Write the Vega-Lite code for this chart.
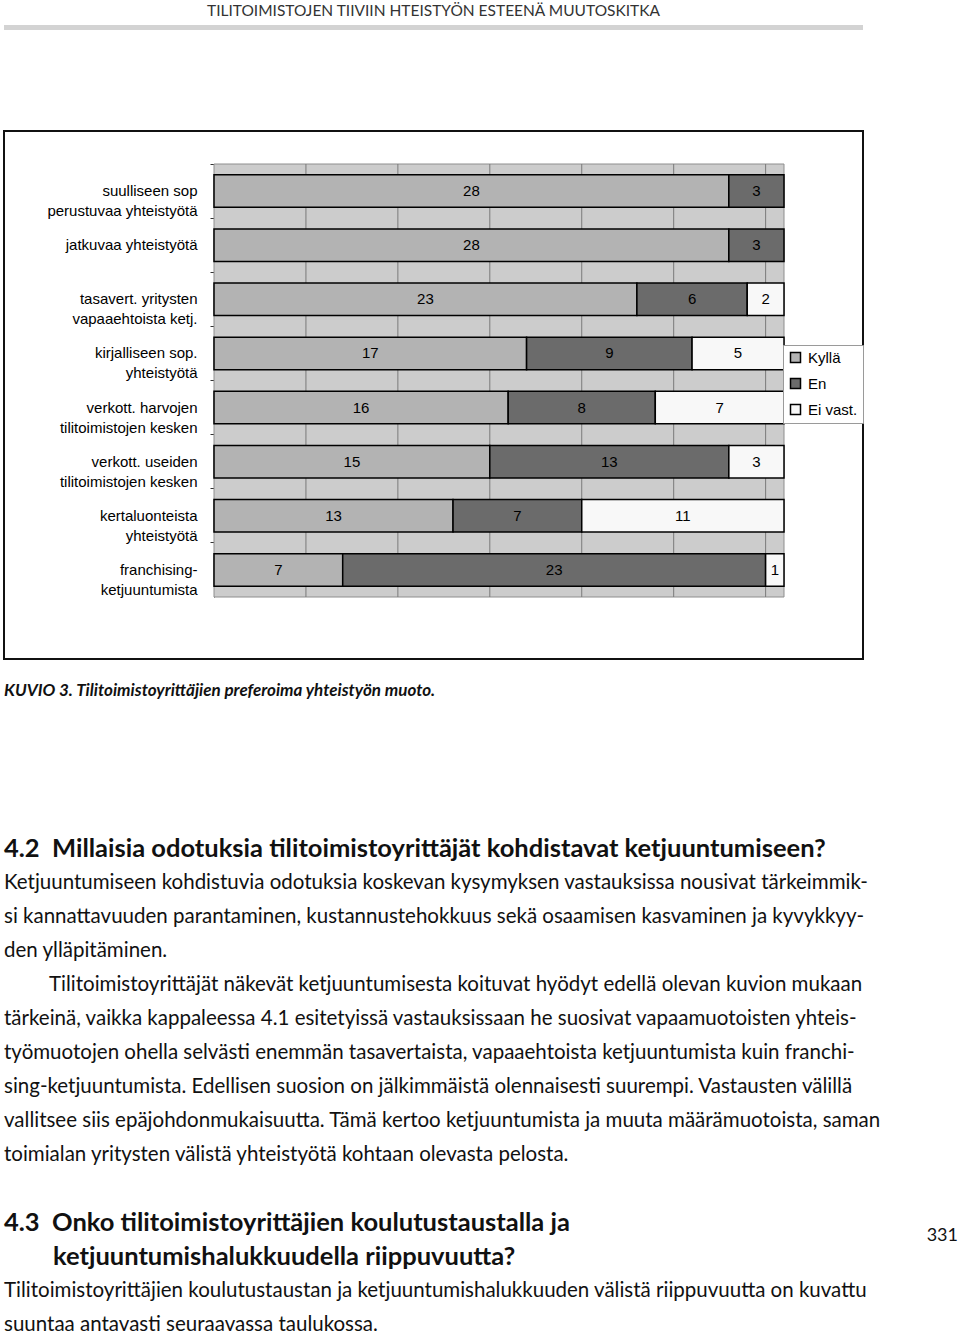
{
  "$schema": "https://vega.github.io/schema/vega-lite/v6.json",
  "background": "white",
  "padding": {"left": 3, "top": 3, "right": 0, "bottom": 0},
  "config": {"view": {"stroke": null}},
  "datasets": {
    "resp": [
      {"cat": "suulliseen sop\nperustuvaa yhteistyötä", "resp": "Kyllä", "k": 1, "n": 28},
      {"cat": "suulliseen sop\nperustuvaa yhteistyötä", "resp": "En", "k": 2, "n": 3},
      {"cat": "jatkuvaa yhteistyötä", "resp": "Kyllä", "k": 1, "n": 28},
      {"cat": "jatkuvaa yhteistyötä", "resp": "En", "k": 2, "n": 3},
      {"cat": "tasavert. yritysten\nvapaaehtoista ketj.", "resp": "Kyllä", "k": 1, "n": 23},
      {"cat": "tasavert. yritysten\nvapaaehtoista ketj.", "resp": "En", "k": 2, "n": 6},
      {"cat": "tasavert. yritysten\nvapaaehtoista ketj.", "resp": "Ei vast.", "k": 3, "n": 2},
      {"cat": "kirjalliseen sop.\nyhteistyötä", "resp": "Kyllä", "k": 1, "n": 17},
      {"cat": "kirjalliseen sop.\nyhteistyötä", "resp": "En", "k": 2, "n": 9},
      {"cat": "kirjalliseen sop.\nyhteistyötä", "resp": "Ei vast.", "k": 3, "n": 5},
      {"cat": "verkott. harvojen\ntilitoimistojen kesken", "resp": "Kyllä", "k": 1, "n": 16},
      {"cat": "verkott. harvojen\ntilitoimistojen kesken", "resp": "En", "k": 2, "n": 8},
      {"cat": "verkott. harvojen\ntilitoimistojen kesken", "resp": "Ei vast.", "k": 3, "n": 7},
      {"cat": "verkott. useiden\ntilitoimistojen kesken", "resp": "Kyllä", "k": 1, "n": 15},
      {"cat": "verkott. useiden\ntilitoimistojen kesken", "resp": "En", "k": 2, "n": 13},
      {"cat": "verkott. useiden\ntilitoimistojen kesken", "resp": "Ei vast.", "k": 3, "n": 3},
      {"cat": "kertaluonteista\nyhteistyötä", "resp": "Kyllä", "k": 1, "n": 13},
      {"cat": "kertaluonteista\nyhteistyötä", "resp": "En", "k": 2, "n": 7},
      {"cat": "kertaluonteista\nyhteistyötä", "resp": "Ei vast.", "k": 3, "n": 11},
      {"cat": "franchising-\nketjuuntumista", "resp": "Kyllä", "k": 1, "n": 7},
      {"cat": "franchising-\nketjuuntumista", "resp": "En", "k": 2, "n": 23},
      {"cat": "franchising-\nketjuuntumista", "resp": "Ei vast.", "k": 3, "n": 1}
    ],
    "grid": [{"g": 5}, {"g": 10}, {"g": 15}, {"g": 20}, {"g": 25}, {"g": 30}],
    "page": [
      {"line": 0, "kind": "heading", "t": "4.2\u00a0 Millaisia odotuksia tilitoimistoyrittäjät kohdistavat ketjuuntumiseen?"},
      {"line": 1, "kind": "body", "t": "Ketjuuntumiseen kohdistuvia odotuksia koskevan kysymyksen vastauksissa nousivat tärkeimmik-"},
      {"line": 2, "kind": "body", "t": "si kannattavuuden parantaminen, kustannustehokkuus sekä osaamisen kasvaminen ja kyvykkyy-"},
      {"line": 3, "kind": "body", "t": "den ylläpitäminen."},
      {"line": 4, "kind": "bodyFirst", "t": "Tilitoimistoyrittäjät näkevät ketjuuntumisesta koituvat hyödyt edellä olevan kuvion mukaan"},
      {"line": 5, "kind": "body", "t": "tärkeinä, vaikka kappaleessa 4.1 esitetyissä vastauksissaan he suosivat vapaamuotoisten yhteis-"},
      {"line": 6, "kind": "body", "t": "työmuotojen ohella selvästi enemmän tasavertaista, vapaaehtoista ketjuuntumista kuin franchi-"},
      {"line": 7, "kind": "body", "t": "sing-ketjuuntumista. Edellisen suosion on jälkimmäistä olennaisesti suurempi. Vastausten välillä"},
      {"line": 8, "kind": "body", "t": "vallitsee siis epäjohdonmukaisuutta. Tämä kertoo ketjuuntumista ja muuta määrämuotoista, saman"},
      {"line": 9, "kind": "body", "t": "toimialan yritysten välistä yhteistyötä kohtaan olevasta pelosta."},
      {"line": 11, "kind": "heading", "t": "4.3\u00a0 Onko tilitoimistoyrittäjien koulutustaustalla ja"},
      {"line": 12, "kind": "headingCont", "t": "ketjuuntumishalukkuudella riippuvuutta?"},
      {"line": 13, "kind": "body", "t": "Tilitoimistoyrittäjien koulutustaustan ja ketjuuntumishalukkuuden välistä riippuvuutta on kuvattu"},
      {"line": 14, "kind": "body", "t": "suuntaa antavasti seuraavassa taulukossa."},
      {"line": 11, "kind": "page", "t": "331"}
    ]
  },
  "spacing": 100,
  "vconcat": [
    {
      "width": 859,
      "height": 5,
      "view": {"fill": "#d3d3d3", "stroke": null},
      "title": {"text": "TILITOIMISTOJEN TIIVIIN HTEISTYÖN ESTEENÄ MUUTOSKITKA", "font": "Lato", "fontSize": 15.5, "fontWeight": "normal", "color": "#333333", "anchor": "middle", "offset": 6},
      "data": {"values": []},
      "mark": "point"
    },
    {
      "spacing": 22,
      "vconcat": [
        {
          "width": 859,
          "height": 528,
          "view": {"stroke": "#111111", "strokeWidth": 2},
          "resolve": {"scale": {"y": "independent"}, "axis": {"y": "independent"}},
          "layer": [
            {
              "data": {"values": [{}]},
              "mark": {"type": "rect", "fill": "#cccccc", "stroke": "#8e8e8e", "strokeWidth": 1},
              "encoding": {
                "x": {"datum": 0, "type": "quantitative", "scale": {"domain": [0, 31], "range": [210, 780], "nice": false}, "axis": null},
                "x2": {"datum": 31},
                "y": {"datum": 0, "type": "quantitative", "scale": {"domain": [0, 1], "range": [33, 466], "nice": false}, "axis": null},
                "y2": {"datum": 1}
              }
            },
            {
              "data": {"name": "grid"},
              "mark": {"type": "rule", "color": "#7a7a7a", "strokeWidth": 1},
              "encoding": {
                "x": {"field": "g", "type": "quantitative", "scale": {"domain": [0, 31], "range": [210, 780], "nice": false}, "axis": null},
                "y": {"datum": 0, "type": "quantitative", "scale": {"domain": [0, 1], "range": [33, 466], "nice": false}, "axis": null},
                "y2": {"datum": 1}
              }
            },
            {
              "data": {"name": "resp"},
              "mark": {"type": "bar", "stroke": "#000000", "strokeWidth": 1.5},
              "encoding": {
                "x": {
                  "field": "n", "type": "quantitative", "stack": "zero",
                  "scale": {"domain": [0, 31], "range": [210, 780], "nice": false},
                  "axis": {"title": null, "orient": "bottom", "offset": -62, "domain": false, "ticks": false, "grid": false, "values": [0, 5, 10, 15, 20, 25, 30], "labelFont": "Liberation Sans", "labelFontSize": 15, "labelColor": "#000000", "labelPadding": 12, "labelFlush": false}
                },
                "y": {
                  "field": "cat", "type": "nominal", "sort": null,
                  "scale": {"range": [33, 466], "paddingInner": 0.4, "paddingOuter": 0.2},
                  "axis": {"title": null, "orient": "left", "offset": -210, "domain": true, "domainColor": "#333333", "domainWidth": 1, "ticks": true, "tickColor": "#333333", "tickSize": 4, "bandPosition": -0.3333, "grid": false, "labelFont": "Liberation Sans", "labelFontSize": 15, "labelColor": "#000000", "labelAlign": "right", "labelPadding": 13, "labelLineHeight": 20, "labelLimit": 300, "labelExpr": "split(datum.label, '\\n')"}
                },
                "color": {
                  "field": "resp", "type": "nominal",
                  "scale": {"domain": ["Kyllä", "En", "Ei vast."], "range": ["#b3b3b3", "#6b6b6b", "#f8f8f8"]},
                  "legend": {"title": null, "orient": "none", "legendX": 779, "legendY": 320, "direction": "vertical", "strokeColor": "#9a9a9a", "fillColor": "#ffffff", "padding": 5, "symbolType": "square", "symbolSize": 100, "symbolStrokeColor": "#000000", "symbolStrokeWidth": 1.5, "labelFont": "Liberation Sans", "labelFontSize": 15, "labelColor": "#000000", "labelOffset": 5, "rowPadding": 9}
                },
                "order": {"field": "k", "type": "quantitative"}
              }
            },
            {
              "data": {"name": "resp"},
              "mark": {"type": "text", "font": "Liberation Sans", "fontSize": 15, "color": "#000000", "baseline": "middle"},
              "encoding": {
                "x": {"field": "n", "type": "quantitative", "stack": "zero", "bandPosition": 0.5, "scale": {"domain": [0, 31], "range": [210, 780], "nice": false}, "axis": null},
                "y": {"field": "cat", "type": "nominal", "sort": null, "scale": {"range": [33, 466], "paddingInner": 0.4, "paddingOuter": 0.2}, "axis": null},
                "detail": {"field": "resp"},
                "order": {"field": "k", "type": "quantitative"},
                "text": {"field": "n", "type": "quantitative"}
              }
            }
          ]
        },
        {
          "width": 957,
          "height": 500,
          "view": {"stroke": null},
          "title": {"text": "KUVIO 3. Tilitoimistoyrittäjien preferoima yhteistyön muoto.", "anchor": "start", "font": "Lato", "fontSize": 17, "fontStyle": "italic", "fontWeight": "bold", "color": "#111111", "offset": 132},
          "data": {"name": "page"},
          "encoding": {
            "y": {"field": "line", "type": "quantitative", "scale": {"domain": [-0.5, 14.2], "reverse": true, "nice": false, "zero": false}, "axis": null}
          },
          "layer": [
            {
              "transform": [{"filter": "datum.kind == 'body'"}],
              "mark": {"type": "text", "align": "left", "baseline": "middle", "font": "Lato", "fontSize": 20.5, "color": "#111111"},
              "encoding": {"x": {"value": 0}, "text": {"field": "t"}}
            },
            {
              "transform": [{"filter": "datum.kind == 'bodyFirst'"}],
              "mark": {"type": "text", "align": "left", "baseline": "middle", "font": "Lato", "fontSize": 20.5, "color": "#111111", "dx": 45},
              "encoding": {"x": {"value": 0}, "text": {"field": "t"}}
            },
            {
              "transform": [{"filter": "datum.kind == 'heading'"}],
              "mark": {"type": "text", "align": "left", "baseline": "middle", "font": "Lato", "fontSize": 25.5, "fontWeight": "bold", "color": "#111111"},
              "encoding": {"x": {"value": 0}, "text": {"field": "t"}}
            },
            {
              "transform": [{"filter": "datum.kind == 'headingCont'"}],
              "mark": {"type": "text", "align": "left", "baseline": "middle", "font": "Lato", "fontSize": 25.5, "fontWeight": "bold", "color": "#111111", "dx": 49},
              "encoding": {"x": {"value": 0}, "text": {"field": "t"}}
            },
            {
              "transform": [{"filter": "datum.kind == 'page'"}],
              "mark": {"type": "text", "align": "right", "baseline": "middle", "font": "Lato", "fontSize": 18, "color": "#111111", "dy": 13, "dx": -3},
              "encoding": {"x": {"value": "width"}, "text": {"field": "t"}}
            }
          ]
        }
      ]
    }
  ]
}
